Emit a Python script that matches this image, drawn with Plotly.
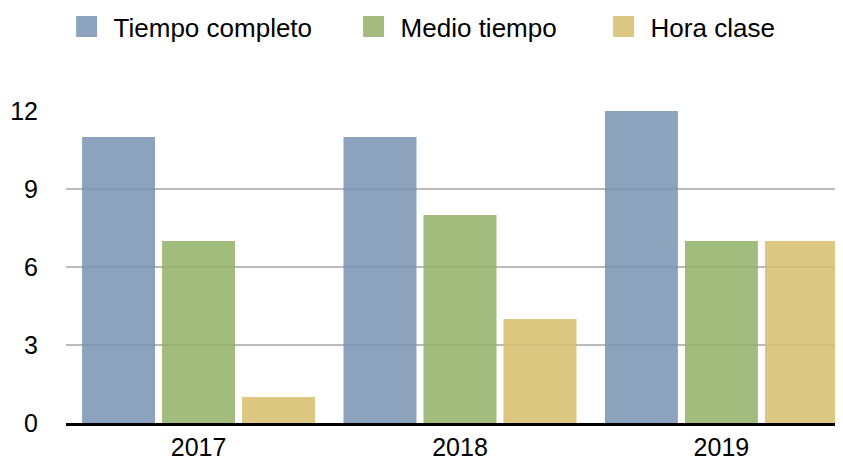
import plotly.graph_objects as go

years = ["2017", "2018", "2019"]
series_names = ["Tiempo completo", "Medio tiempo", "Hora clase"]
tiempo_completo = [11, 11, 12]
medio_tiempo = [7, 8, 7]
hora_clase = [1, 4, 7]
y_ticks = [0, 3, 6, 9, 12]

colors = ["rgb(120,146,177)", "rgb(146,176,103)", "rgb(214,190,108)"]
legend_colors = ["rgb(141,163,189)", "rgb(163,188,126)", "rgb(220,200,130)"]
values = [tiempo_completo, medio_tiempo, hora_clase]
legend_ids = ["legend", "legend2", "legend3"]
legend_x = [0.0618, 0.4055, 0.7049]

fig = go.Figure()
for name, vals, col in zip(series_names, values, colors):
    fig.add_trace(go.Bar(
        x=years, y=vals, name=name, legendgroup=name, showlegend=False,
        marker=dict(color=col, line=dict(width=0)),
        opacity=0.85,
    ))
# legend entries (square swatches)
for name, col, lid in zip(series_names, legend_colors, legend_ids):
    fig.add_trace(go.Scatter(
        x=[None], y=[None], mode="markers", name=name, legendgroup=name,
        marker=dict(symbol="square", size=16, color=col,
                    line=dict(color=col, width=5)),
        showlegend=True, legend=lid,
    ))

legend_common = dict(orientation="h", xref="container", xanchor="left",
                     yref="container", y=0.959, yanchor="middle",
                     font=dict(size=26), itemwidth=44, bgcolor="rgba(0,0,0,0)")
fig.update_layout(
    width=835, height=453,
    margin=dict(l=58, r=0, t=103, b=38),
    paper_bgcolor="white", plot_bgcolor="white",
    barmode="group", bargap=0.082, bargroupgap=0.0875,
    font=dict(family="Liberation Sans, Arial, sans-serif", size=25, color="black"),
    legend=dict(x=legend_x[0], **legend_common),
    legend2=dict(x=legend_x[1], **legend_common),
    legend3=dict(x=legend_x[2], **legend_common),
    showlegend=True,
)
fig.update_xaxes(
    range=[-0.507, 2.465], showgrid=False,
    showline=True, linecolor="black", linewidth=2.5,
    ticks="", tickfont=dict(size=25), ticklabelstandoff=0, automargin=False,
)
fig.update_yaxes(
    range=[0, 12], tickvals=y_ticks, showgrid=True, gridcolor="#bbbbbb", gridwidth=2,
    zeroline=False, showline=False, ticks="", ticklabelstandoff=27,
    tickfont=dict(size=25), automargin=False,
)
fig.write_html("out.html")
